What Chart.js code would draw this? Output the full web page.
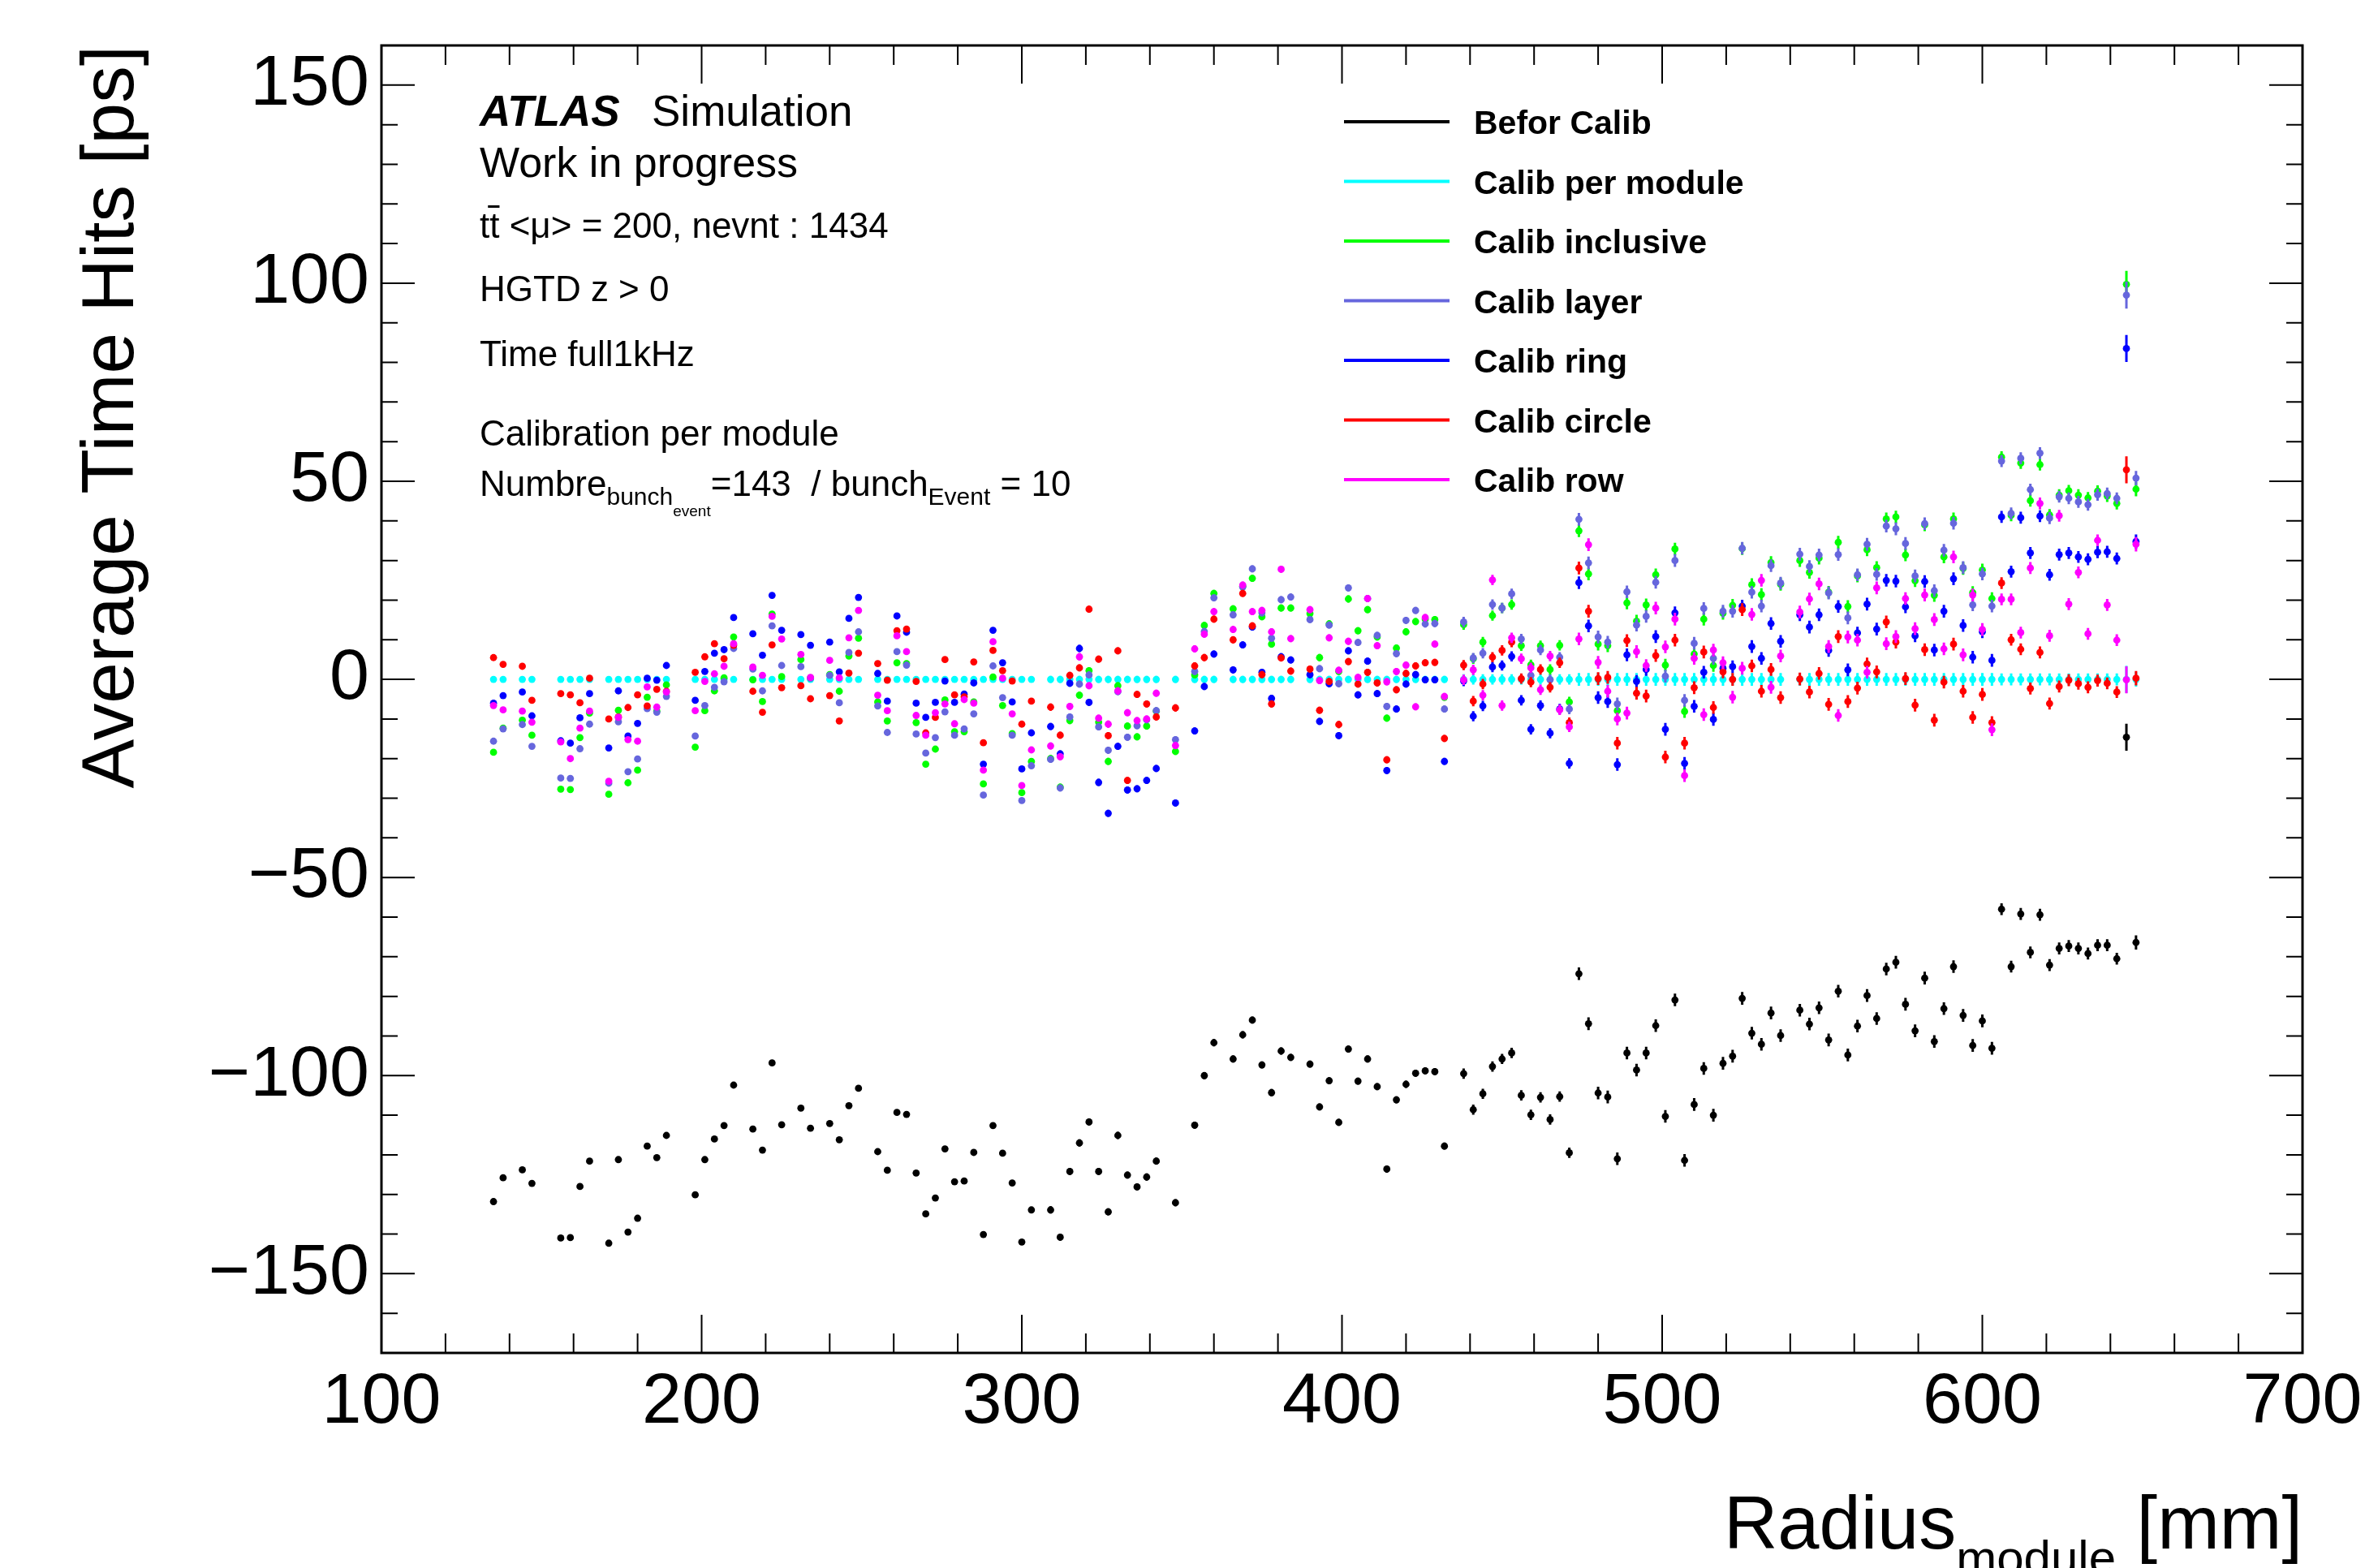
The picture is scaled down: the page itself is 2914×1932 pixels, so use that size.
<!DOCTYPE html>
<html><head><meta charset="utf-8">
<script src="https://cdn.jsdelivr.net/npm/chart.js@4.4.1/dist/chart.umd.min.js"></script>
<style>html,body{margin:0;padding:0;background:#fff;overflow:hidden}canvas{display:block}</style>
</head><body>
<canvas id="c" width="2914" height="1932" style="width:2914px;height:1932px"></canvas>
<script>
// ---- data ----
const radius = [
 135,138,144,147,
 156,159,162,165,
 171,174,177,180,183,186,189,
 198,201,204,207,210,
 216,219,222,225,
 231,234,
 240,243,246,249,
 255,258,261,264,267,270,273,276,279,282,285,288,291,294,297,300,303,
 309,312,315,318,321,324,327,330,333,336,339,342,
 348,
 354,357,360,
 366,369,372,375,378,381,384,
 390,393,396,399,402,405,408,411,414,417,420,423,426,429,432,
 438,441,444,447,450,453,456,459,462,465,468,471,474,477,480,483,486,489,492,495,498,501,504,507,510,513,516,519,522,525,528,531,534,537,
 543,546,549,552,555,558,561,564,567,570,573,576,579,582,585,588,591,594,597,600,603,606,609,612,615,618,621,624,627,630,633,636,639,642,645,648];

const beforCalib = [
 -131.8,-125.8,-123.8,-127.2,
 -141.0,-140.9,-128.0,-121.6,
 -142.3,-121.2,-139.5,-136.0,-117.8,-120.7,-115.1,
 -130.1,-121.2,-116.0,-112.6,-102.4,
 -113.5,-118.8,-96.8,-112.4,
 -108.2,-113.3,
 -112.1,-116.2,-107.6,-103.2,
 -119.2,-123.9,-109.3,-109.8,-124.6,-134.9,-130.9,-118.5,-126.8,-126.6,-119.4,-140.1,-112.6,-119.6,-127.1,-142.0,-133.9,
 -133.9,-140.8,-124.2,-117.0,-111.7,-124.2,-134.4,-115.1,-125.1,-128.1,-125.6,-121.6,
 -132.1,
 -112.5,-100.0,-91.7,
 -95.8,-89.7,-86.0,-97.3,-104.3,-93.8,-95.4,
 -97.1,-107.9,-101.3,-111.8,-93.3,-101.4,-95.8,-102.8,-123.6,-106.1,-102.2,-99.4,-98.8,-99.0,-117.8,
 -99.5,-108.6,-104.6,-97.7,-95.8,-94.3,-105.0,-109.9,-105.5,-111.1,-105.3,-119.5,-74.3,-86.9,-104.4,-105.4,-121.0,-94.3,-98.6,-94.3,-87.4,-110.3,-80.9,-121.4,-107.3,-98.2,-110.0,-96.9,-95.1,-80.5,-89.3,-92.1,-84.2,-89.9,
 -83.5,-87.0,-82.9,-91.0,-78.7,-94.8,-87.5,-79.8,-85.6,-73.1,-71.4,-82.0,-88.7,-75.4,-91.4,-83.1,-72.5,-84.8,-92.4,-86.2,-93.1,-58.0,-72.5,-59.2,-68.9,-59.4,-72.1,-67.9,-67.3,-67.9,-69.2,-67.1,-67.1,-70.5,-14.6,-66.4];

const calibPerModule = [
 0,0,0,0,
 0,0,0,0,
 0,0,0,0,0,0,0,
 0,0,0,0,0,
 0,0,0,0,
 0,0,
 0,0,0,0,
 0,0,0,0,0,0,0,0,0,0,0,0,0,0,0,0,0,
 0,0,0,0,0,0,0,0,0,0,0,0,
 0,
 0,0,0,
 0,0,0,0,0,0,0,
 0,0,0,0,0,0,0,0,0,0,0,0,0,0,0,
 0,0,0,0,0,0,0,0,0,0,0,0,0,0,0,0,0,0,0,0,0,0,0,0,0,0,0,0,0,0,0,0,0,0,
 0,0,0,0,0,0,0,0,0,0,0,0,0,0,0,0,0,0,0,0,0,0,0,0,0,0,0,0,0,0,0,0,0,0,0,0];

const calibInclusive = [
 -18.4,-12.3,-10.3,-14.1,
 -27.7,-27.8,-14.7,-8.5,
 -29.0,-7.8,-26.1,-22.9,-4.5,-8.0,-1.4,
 -17.1,-7.9,-2.9,0.4,10.7,
 -0.1,-5.6,16.5,0.7,
 5.0,0.4,
 1.2,-3.0,5.9,10.4,
 -5.7,-10.5,4.2,4.0,-10.9,-21.4,-17.6,-5.2,-13.2,-13.2,-5.7,-26.4,0.6,-6.6,-13.7,-28.6,-20.7,
 -20.0,-27.2,-10.4,-4.0,2.2,-10.8,-20.7,-1.6,-11.8,-14.5,-11.8,-8.0,
 -18.2,
 1.1,13.6,21.7,
 17.8,23.5,25.5,15.8,8.9,18.0,18.0,
 16.6,5.5,14.0,2.0,20.3,12.3,17.6,10.7,-9.8,7.9,12.0,14.6,15.2,15.1,-4.5,
 13.8,5.2,9.4,16.1,18.0,18.9,8.5,3.7,8.5,2.5,8.6,-5.7,37.5,26.6,8.9,8.5,-7.9,19.3,14.7,18.8,26.4,3.6,32.9,-8.1,6.4,15.2,3.5,16.7,18.7,33.0,23.9,21.4,29.5,24.0,
 30.0,27.0,30.6,22.0,34.6,18.4,26.1,32.7,28.2,40.5,41.0,31.4,24.9,39.0,21.2,30.9,40.5,28.0,21.9,27.6,20.4,56.1,41.4,54.6,45.1,54.2,41.5,46.5,47.6,46.5,45.8,47.5,46.3,44.4,99.7,48.0];

const calibLayer = [
 -15.6,-12.5,-11.4,-16.9,
 -24.9,-25.0,-17.5,-11.3,
 -26.2,-10.7,-23.3,-20.1,-7.4,-8.3,-4.3,
 -14.3,-6.6,-2.0,-0.6,7.8,
 2.6,-2.9,13.5,3.5,
 3.2,0.3,
 1.0,-5.9,6.8,12.0,
 -6.7,-13.4,7.0,3.6,-13.8,-18.6,-14.7,-8.2,-14.1,-12.5,-8.7,-29.2,3.4,-4.6,-14.1,-30.6,-21.8,
 -20.2,-27.4,-9.5,-1.2,1.1,-12.0,-17.9,-3.1,-14.6,-11.7,-10.2,-7.9,
 -15.2,
 2.0,12.1,20.6,
 16.3,23.3,27.9,16.8,10.4,20.1,20.8,
 15.1,2.7,13.7,-1.1,23.1,9.3,20.4,11.1,-6.8,6.5,14.9,17.4,14.0,14.1,-7.5,
 14.5,5.4,6.6,18.9,18.0,21.6,10.2,1.0,7.4,-0.1,5.6,-7.5,40.4,29.4,10.7,9.4,-6.2,22.1,13.7,15.9,24.5,0.8,30.0,-5.3,9.1,17.9,5.3,17.2,17.2,33.1,22.0,18.5,28.7,24.3,
 31.6,28.5,31.4,21.8,31.5,15.5,26.4,34.1,26.5,38.7,38.0,34.3,26.1,39.3,22.4,32.6,39.4,28.2,18.8,26.6,18.5,55.1,41.9,55.8,47.9,57.1,40.7,46.1,45.7,44.8,44.1,46.6,46.9,45.7,97.0,50.8];

const calibRing = [
 -6.0,-4.1,-3.2,-9.2,
 -15.5,-16.1,-9.7,-3.6,
 -17.3,-2.9,-14.3,-11.1,0.3,-0.2,3.5,
 -5.3,2.0,6.6,7.5,15.6,
 11.5,6.1,21.2,12.4,
 11.3,8.6,
 9.4,1.9,15.4,20.7,
 1.5,-5.5,16.0,11.9,-6.0,-9.6,-5.8,-0.4,-5.8,-3.7,-0.9,-21.4,12.4,4.2,-5.7,-22.6,-13.5,
 -11.9,-18.8,-1.0,7.8,-5.8,-26.0,-33.8,-16.9,-27.9,-27.6,-25.5,-22.5,
 -31.2,
 -13.0,-1.8,6.4,
 2.4,8.7,13.2,1.8,-4.8,5.7,4.9,
 1.2,-10.6,-1.1,-14.2,7.2,-3.9,4.6,-3.6,-23.0,-7.5,-1.2,1.2,-0.1,-0.1,-20.7,
 -0.4,-9.3,-6.7,3.1,3.5,5.8,-5.3,-12.6,-6.6,-13.6,-7.5,-21.2,24.4,13.5,-4.6,-5.6,-21.5,6.2,-0.5,2.5,10.8,-12.6,16.8,-21.2,-6.8,1.8,-10.1,2.8,3.2,18.5,8.3,5.3,14.1,9.6,
 16.3,13.2,16.3,7.3,18.4,2.4,11.7,19.0,12.7,25.0,24.8,18.3,11.0,24.7,7.4,17.2,25.4,13.6,5.6,12.0,4.8,41.0,27.2,40.8,31.9,41.2,26.4,31.5,31.9,30.9,30.3,32.1,32.2,30.5,83.5,34.8];

const calibCircle = [
 5.5,3.8,3.3,-5.3,
 -3.6,-3.9,-5.9,0.3,
 -10.0,-9.5,-7.1,-3.9,-6.7,-2.5,-3.0,
 1.8,5.7,9.0,5.2,8.6,
 -3.0,-8.3,8.7,-2.1,
 -1.6,-4.9,
 -4.1,-10.5,1.6,6.6,
 4.0,-0.2,12.3,12.7,-0.5,-13.5,-9.6,5.0,-3.9,-4.4,4.4,-16.0,7.3,2.2,-0.4,-11.3,-5.5,
 -7.0,-14.1,1.0,2.9,17.7,5.1,-14.2,7.2,-25.5,-3.8,-6.2,-9.5,
 -7.2,
 3.4,5.5,15.2,
 10.0,21.7,13.5,1.2,-6.2,5.4,2.1,
 2.6,-7.8,-0.5,-11.4,4.5,-1.2,1.8,-0.9,-20.3,-2.6,1.5,3.4,4.2,4.3,-14.9,
 3.6,-5.5,-1.2,5.6,7.3,9.4,0.2,-0.7,2.5,-2.0,4.2,-10.9,28.1,17.2,0.2,0.5,-16.1,9.8,-3.5,-4.2,6.0,-19.6,9.9,-16.1,-2.1,6.9,-7.1,1.9,0.0,17.6,3.4,-3.0,2.5,-4.6,
 0.1,-3.2,1.5,-6.3,10.8,-5.6,-2.2,3.9,1.9,14.5,9.4,0.2,-6.5,7.5,-10.3,-0.7,8.9,-3.0,-9.6,-3.8,-10.9,24.3,10.0,7.6,-2.3,6.8,-6.1,-1.8,-0.2,-1.1,-2.0,-0.3,-1.0,-3.2,52.9,0.3];

const calibRow = [
 -6.6,-7.7,-8.0,-10.8,
 -15.8,-20.0,-12.3,-8.0,
 -25.7,-9.6,-15.2,-15.6,-1.9,-7.0,-3.2,
 -7.9,-0.5,1.4,3.3,9.0,
 3.1,1.0,15.9,10.2,
 6.3,0.5,
 4.8,0.4,10.5,17.4,
 -4.0,-7.9,11.0,7.0,-9.1,-14.1,-8.4,-6.2,-11.2,-5.1,-6.0,-22.9,9.5,0.3,-8.7,-26.8,-17.8,
 -16.8,-19.5,-6.8,5.7,-1.6,-9.8,-11.3,-2.9,-8.4,-10.4,-10.0,-3.5,
 -16.7,
 7.7,11.4,17.1,
 12.6,23.8,17.1,17.4,12.0,27.8,10.3,
 17.6,-0.3,10.5,2.3,9.6,0.5,20.4,8.5,-0.6,2.0,3.6,-6.9,15.6,8.9,-4.3,
 -0.1,2.4,-4.0,25.1,-6.6,10.5,5.2,2.9,-2.6,5.9,-7.7,-12.0,10.2,34.0,4.3,-3.0,-10.0,-8.5,7.0,3.5,18.0,8.2,15.2,-24.3,5.3,-8.9,7.4,4.2,-4.5,2.8,16.4,25.0,-2.0,5.9,
 17.0,20.3,24.1,8.3,-9.1,10.7,9.9,1.8,23.1,9.0,10.8,20.4,12.8,21.3,15.1,7.7,30.9,6.2,21.3,12.6,-12.7,20.2,20.2,11.8,28.1,44.4,11.0,41.3,19.0,27.0,11.5,35.1,18.8,9.9,-0.1,34.1];

// vertical error (ps), one per module radius
const errBar = [
 0.5,0.5,0.5,0.5,
 0.5,0.5,0.5,0.5,
 0.5,0.5,0.5,0.5,0.5,0.5,0.5,
 0.5,0.5,0.5,0.5,0.5,
 0.5,0.5,0.5,0.5,
 0.5,0.5,
 0.5,0.5,0.5,0.5,
 0.5,0.5,0.5,0.5,0.5,0.5,0.5,0.5,0.5,0.5,0.5,0.5,0.5,0.5,0.5,0.5,0.5,
 0.9,0.9,0.9,0.9,0.9,0.9,0.9,0.9,0.9,0.9,0.9,0.9,
 0.9,
 0.9,0.9,0.9,
 0.9,0.9,0.9,0.9,0.9,0.9,0.9,
 0.9,0.9,0.9,0.9,0.9,0.9,0.9,0.9,0.9,0.9,0.9,0.9,0.9,0.9,0.9,
 1.3,1.3,1.3,1.3,1.3,1.3,1.3,1.3,1.3,1.3,1.3,1.3,1.6,1.6,1.6,1.6,1.6,1.6,1.6,1.6,1.6,1.6,1.6,1.6,1.6,1.6,1.6,1.6,1.6,1.6,1.6,1.6,1.6,1.6,
 1.6,1.6,1.6,1.6,1.6,1.6,1.6,1.6,1.6,1.6,1.6,1.6,1.6,1.6,1.6,1.6,1.6,1.6,1.6,1.6,1.6,1.5,1.5,1.5,1.5,1.5,1.5,1.5,1.5,1.5,1.5,1.5,1.5,1.5,3.4,1.8];

const seriesNames = ['Befor Calib','Calib per module','Calib inclusive','Calib layer','Calib ring','Calib circle','Calib row'];
const seriesColors = ['#000000','#00ffff','#00ff00','#6666dd','#0000ff','#ff0000','#ff00ff'];
const xTicks = [100,200,300,400,500,600,700];
const yTicks = [-150,-100,-50,0,50,100,150];
const xRange = [100,700];
const yRange = [-170,160];

const seriesValues = [beforCalib, calibPerModule, calibInclusive, calibLayer, calibRing, calibCircle, calibRow];
seriesValues.concat([errBar]).forEach((a, i) => {
  if (a.length !== radius.length) throw new Error('array ' + i + ' has length ' + a.length + ' expected ' + radius.length);
});

const FONT = "'Liberation Sans', Arial, Helvetica, sans-serif";

const datasets = seriesValues.map((vals, i) => ({
  label: seriesNames[i],
  data: radius.map((r, j) => ({ x: r, y: vals[j], e: errBar[j] })),
  backgroundColor: seriesColors[i],
  borderColor: seriesColors[i],
  borderWidth: 0,
  pointRadius: 4.4,
  pointHoverRadius: 4.4,
  pointStyle: 'circle',
  showLine: false,
  order: 7 - i
}));

const errorBars = {
  id: 'errorBars',
  beforeDatasetDraw(chart, args) {
    const ds = chart.data.datasets[args.index];
    const ys = chart.scales.y;
    const a = chart.chartArea;
    const ctx = chart.ctx;
    ctx.save();
    ctx.beginPath(); ctx.rect(a.left, a.top, a.width, a.height); ctx.clip();
    ctx.strokeStyle = ds.borderColor;
    ctx.lineWidth = 3;
    ctx.beginPath();
    args.meta.data.forEach((pt, j) => {
      const d = ds.data[j];
      if (d.y == null) return;
      ctx.moveTo(pt.x, ys.getPixelForValue(d.y + d.e));
      ctx.lineTo(pt.x, ys.getPixelForValue(d.y - d.e));
    });
    ctx.stroke();
    ctx.restore();
  }
};

const frame = {
  id: 'frame',
  afterDatasetsDraw(chart) {
    const { ctx, chartArea: a, scales: { x, y } } = chart;
    ctx.save();
    ctx.strokeStyle = '#000';
    ctx.lineWidth = 2;
    ctx.beginPath();
    for (let v = xRange[0]; v <= xRange[1] + 1e-6; v += 20) {
      const px = x.getPixelForValue(v);
      const len = xTicks.includes(v) ? 47 : 24;
      ctx.moveTo(px, a.bottom); ctx.lineTo(px, a.bottom - len);
      ctx.moveTo(px, a.top); ctx.lineTo(px, a.top + len);
    }
    for (let v = yRange[0]; v <= yRange[1] + 1e-6; v += 10) {
      const py = y.getPixelForValue(v);
      const len = yTicks.includes(v) ? 41 : 20;
      ctx.moveTo(a.left, py); ctx.lineTo(a.left + len, py);
      ctx.moveTo(a.right, py); ctx.lineTo(a.right - len, py);
    }
    ctx.stroke();
    ctx.lineWidth = 3;
    ctx.strokeRect(a.left, a.top, a.width, a.height);
    ctx.restore();
  }
};

function put(ctx, s, x, y, size, weight, style) {
  ctx.font = (style || 'normal') + ' ' + (weight || 'normal') + ' ' + size + 'px ' + FONT;
  ctx.fillText(s, x, y);
  return ctx.measureText(s).width;
}

const texts = {
  id: 'texts',
  afterDraw(chart) {
    const ctx = chart.ctx;
    const a = chart.chartArea;
    ctx.save();
    ctx.fillStyle = '#000';
    ctx.textAlign = 'left';
    ctx.textBaseline = 'alphabetic';
    // annotation block
    const L = 591;
    put(ctx, 'ATLAS', L, 155, 53, 'bold', 'italic');
    put(ctx, 'Simulation', 803, 155, 53);
    put(ctx, 'Work in progress', L, 218, 52);
    let w = put(ctx, 't', L, 293, 44);
    const w2 = put(ctx, 't', L + w, 293, 44);
    ctx.fillRect(L + w - 2, 293 - 40, w2 + 2, 3);
    put(ctx, ' <\u03bc> = 200, nevnt : 1434', L + w + w2, 293, 44);
    put(ctx, 'HGTD z > 0', L, 371, 44);
    put(ctx, 'Time full1kHz', L, 451, 44);
    put(ctx, 'Calibration per module', L, 549, 44);
    let cx = L;
    cx += put(ctx, 'Numbre', cx, 611, 44);
    cx += put(ctx, 'bunch', cx, 622, 30);
    cx += put(ctx, 'event', cx, 636, 19);
    cx += put(ctx, '=143  / bunch', cx, 611, 44);
    cx += put(ctx, 'Event', cx, 622, 30);
    put(ctx, ' = 10', cx, 611, 44);

    // legend
    chart.data.datasets.forEach((ds, i) => {
      const yy = 150 + i * 73.5;
      ctx.strokeStyle = ds.borderColor;
      ctx.lineWidth = 4;
      ctx.beginPath(); ctx.moveTo(1656, yy); ctx.lineTo(1786, yy); ctx.stroke();
      put(ctx, ds.label, 1816, yy + 15, 41, 'bold');
    });

    // x title with subscript, right aligned to frame
    ctx.font = 'normal normal 92px ' + FONT; const t1 = ctx.measureText('Radius').width;
    ctx.font = 'normal normal 60px ' + FONT; const t2 = ctx.measureText('module').width;
    ctx.font = 'normal normal 92px ' + FONT; const t3 = ctx.measureText(' [mm]').width;
    let xx = a.right - (t1 + t2 + t3);
    xx += put(ctx, 'Radius', xx, 1908, 92);
    xx += put(ctx, 'module', xx, 1940, 60);
    put(ctx, ' [mm]', xx, 1908, 92);

    // y title
    ctx.translate(164, a.top);
    ctx.rotate(-Math.PI / 2);
    ctx.textAlign = 'right';
    put(ctx, 'Average Time Hits [ps]', 0, 0, 91);
    ctx.restore();
  }
};

const fmt = v => (v < 0 ? '\u2212' + Math.abs(v) : String(v));

new Chart(document.getElementById('c'), {
  type: 'scatter',
  data: { datasets },
  options: {
    responsive: false,
    devicePixelRatio: 1,
    animation: false,
    events: [],
    layout: { padding: { top: 56, right: 77, bottom: 0, left: 0 } },
    plugins: { legend: { display: false }, tooltip: { enabled: false } },
    scales: {
      x: {
        type: 'linear', min: xRange[0], max: xRange[1],
        afterBuildTicks: s => { s.ticks = xTicks.map(v => ({ value: v })); },
        afterFit: s => { s.height = 265; s.paddingLeft = 0; s.paddingRight = 0; },
        grid: { display: false, drawTicks: false },
        border: { display: false },
        ticks: { font: { family: FONT, size: 88 }, color: '#000', padding: 9, maxRotation: 0, autoSkip: false, callback: fmt }
      },
      y: {
        type: 'linear', min: yRange[0], max: yRange[1],
        afterBuildTicks: s => { s.ticks = yTicks.map(v => ({ value: v })); },
        afterFit: s => { s.width = 470; s.paddingTop = 0; s.paddingBottom = 0; },
        grid: { display: false, drawTicks: false },
        border: { display: false },
        ticks: { font: { family: FONT, size: 88, lineHeight: 1.3 }, color: '#000', padding: 15, autoSkip: false, callback: fmt }
      }
    }
  },
  plugins: [errorBars, frame, texts]
});
</script>
</body></html>
